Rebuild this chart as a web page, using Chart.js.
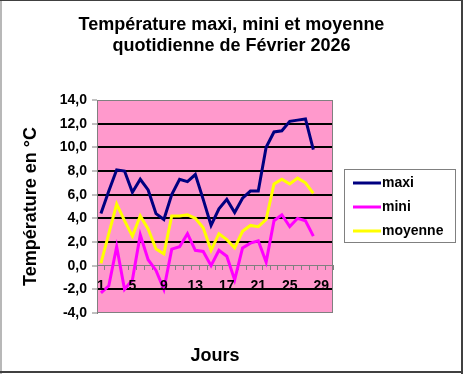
<!DOCTYPE html>
<html><head><meta charset="utf-8">
<script src="https://cdn.jsdelivr.net/npm/chart.js@4/dist/chart.umd.min.js"></script>
<style>html,body{margin:0;padding:0;background:#fff;overflow:hidden}</style>
</head><body>
<canvas id="c" width="463" height="374"></canvas>
<script>
const days = ['1','2','3','4','5','6','7','8','9','10','11','12','13','14','15','16','17','18','19','20','21','22','23','24','25','26','27','28','29','30'];
const maxi = [4.4, 6.3, 8.1, 8.0, 6.2, 7.3, 6.4, 4.4, 3.9, 6.0, 7.3, 7.1, 7.7, 5.6, 3.4, 4.8, 5.6, 4.5, 5.7, 6.3, 6.3, 10.0, 11.3, 11.4, 12.2, 12.3, 12.4, 9.8];
const mini = [-2.3, -1.7, 1.6, -2.0, -1.2, 2.6, 0.5, -0.4, -2.0, 1.4, 1.6, 2.7, 1.3, 1.2, 0.0, 1.3, 0.8, -1.2, 1.5, 1.9, 2.1, 0.3, 3.8, 4.3, 3.3, 4.0, 3.8, 2.5];
const moyenne = [0.2, 2.7, 5.2, 3.8, 2.5, 4.2, 3.1, 1.4, 1.0, 4.2, 4.2, 4.3, 4.0, 3.2, 1.3, 2.7, 2.2, 1.5, 2.9, 3.4, 3.3, 3.9, 6.9, 7.3, 6.9, 7.4, 7.0, 6.1];
const seriesNames = ['maxi', 'mini', 'moyenne'];
const titleLines = ['Température maxi, mini et moyenne', 'quotidienne de Février 2026'];
const yMin = -4, yMax = 14, yStep = 2;

const FONT = "'Liberation Sans', Arial, sans-serif";

const bgPlugin = {
  id: 'bg',
  beforeDraw(chart) {
    const {ctx, chartArea: a} = chart;
    ctx.save();
    ctx.fillStyle = '#ffffff';
    ctx.fillRect(0, 0, chart.width, chart.height);
    ctx.fillStyle = '#FF99CC';
    ctx.fillRect(a.left, a.top, a.right - a.left, a.bottom - a.top);
    ctx.restore();
  },
  beforeDatasetsDraw(chart) {
    const {ctx, chartArea: a} = chart;
    ctx.save();
    ctx.strokeStyle = '#808080';
    ctx.lineWidth = 1;
    ctx.strokeRect(Math.round(a.left) + 0.5, Math.round(a.top) + 0.5, Math.round(a.right - a.left) - 1, Math.round(a.bottom - a.top) - 1);
    ctx.restore();
  },
  afterDraw(chart) {
    const ctx = chart.ctx;
    ctx.save();
    // legend
    const lx = 344, ly = 169, lw = 111, lh = 73;
    ctx.fillStyle = '#ffffff';
    ctx.fillRect(lx, ly, lw, lh);
    ctx.strokeStyle = '#808080';
    ctx.lineWidth = 1;
    ctx.strokeRect(lx + 0.5, ly + 0.5, lw, lh);
    ctx.font = 'bold 14px ' + FONT;
    ctx.textBaseline = 'middle';
    ctx.textAlign = 'left';
    chart.data.datasets.forEach((ds, i) => {
      const yy = ly + 14 + i * 24;
      ctx.strokeStyle = ds.borderColor;
      ctx.lineWidth = 3;
      ctx.beginPath();
      ctx.moveTo(353, yy);
      ctx.lineTo(381, yy);
      ctx.stroke();
      ctx.fillStyle = '#000';
      ctx.fillText(ds.label, 382, yy);
    });
    // outer frame
    ctx.fillStyle = '#b8b8b8';
    ctx.fillRect(0, 0, 2, chart.height);
    ctx.fillStyle = '#404040';
    ctx.fillRect(0, 0, chart.width, 1);
    ctx.fillRect(461, 0, 2, chart.height);
    ctx.fillRect(0, 371, chart.width, 2);
    ctx.restore();
  }
};

new Chart(document.getElementById('c'), {
  type: 'line',
  data: {
    labels: days,
    datasets: [
      {label: seriesNames[0], data: maxi, borderColor: '#000080', backgroundColor: '#000080'},
      {label: seriesNames[1], data: mini, borderColor: '#FF00FF', backgroundColor: '#FF00FF'},
      {label: seriesNames[2], data: moyenne, borderColor: '#FFFF00', backgroundColor: '#FFFF00'}
    ].map(d => Object.assign(d, {borderWidth: 3, pointRadius: 0, tension: 0, fill: false}))
  },
  options: {
    responsive: false,
    animation: false,
    devicePixelRatio: 1,
    layout: {padding: {left: 0, right: 0, top: 0, bottom: 61}},
    plugins: {
      legend: {display: false},
      tooltip: {enabled: false},
      title: {
        display: true, text: titleLines, color: '#000',
        font: {family: FONT, size: 18, weight: 'bold', lineHeight: 1.2},
        padding: {top: 14, bottom: 42.8}
      }
    },
    scales: {
      y: {
        position: 'left', min: yMin, max: yMax,
        afterFit(s) { s.width = 97; },
        ticks: {
          stepSize: yStep, color: '#000', padding: 5,
          font: {family: FONT, size: 14, weight: 'bold'},
          callback: v => v.toFixed(1).replace('.', ',')
        },
        grid: {
          color: c => (c.tick && c.tick.value > yMin && c.tick.value < yMax && c.tick.value !== 0) ? '#000000' : 'rgba(0,0,0,0)',
          lineWidth: 2, tickColor: '#808080', tickWidth: 1, tickLength: 5
        },
        border: {display: true, color: '#808080', width: 1},
        title: {
          display: true, text: 'Température en °C', color: '#000',
          font: {family: FONT, size: 18, weight: 'bold', lineHeight: 1.2},
          padding: {top: 20, bottom: 0}
        }
      },
      ySpace: {
        position: 'right', axis: 'y', min: yMin, max: yMax,
        afterFit(s) { s.width = 130; },
        ticks: {display: false},
        grid: {display: false, drawTicks: false},
        border: {display: false},
        title: {display: false}
      },
      x: {
        type: 'category', axis: 'x', position: {y: 0}, offset: true,
        grid: {offset: true, drawOnChartArea: false, drawTicks: true, tickLength: 4, tickColor: '#808080', tickWidth: 1},
        border: {display: true, color: '#808080', width: 1},
        ticks: {
          autoSkip: false, maxRotation: 0, minRotation: 0, color: '#000', padding: 8, z: 1,
          font: {family: FONT, size: 14, weight: 'bold', lineHeight: 1.2},
          callback: (v, i) => (i % 4 === 0 ? days[i] : '')
        },
        title: {
          display: true, text: 'Jours', color: '#000',
          font: {family: FONT, size: 18, weight: 'bold', lineHeight: 1.2},
          padding: {top: 43, bottom: 0}
        }
      }
    }
  },
  plugins: [bgPlugin]
});
</script>
</body></html>
